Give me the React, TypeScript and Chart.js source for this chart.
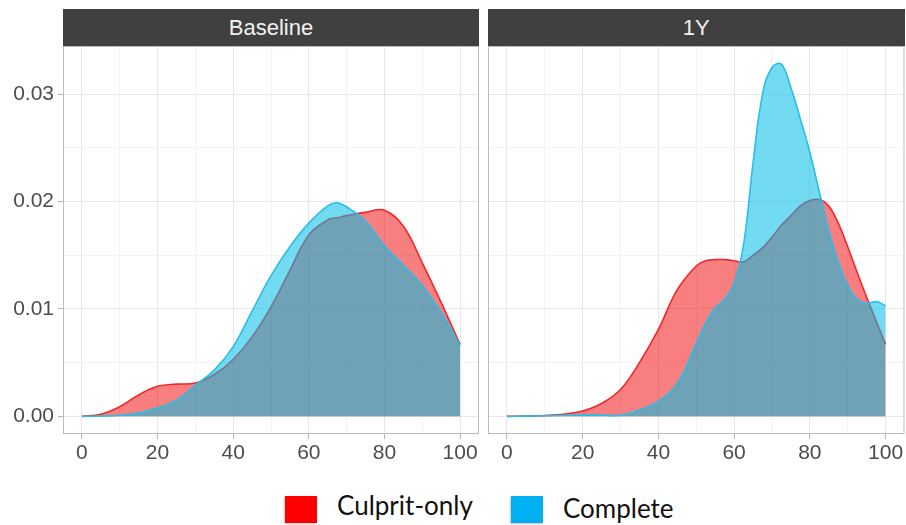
import React, { useEffect, useRef } from "react";
import { Chart, registerables } from "chart.js";

Chart.register(...registerables);

// ---- data ----
const seriesNames = ["Culprit-only", "Complete"];
const panelTitles = ["Baseline", "1Y"];

const baselineX = [0, 5, 10, 15, 20, 25, 30, 35, 40, 45, 50, 55, 60, 65, 67.5, 70, 75, 80, 85, 90, 95, 100];
const baselineCulprit = [0, 0.0002, 0.0009, 0.002, 0.0028, 0.003, 0.0031, 0.0039, 0.0053, 0.0074, 0.0102, 0.0136, 0.0169, 0.0183, 0.0185, 0.0187, 0.019, 0.0192, 0.0177, 0.0143, 0.0106, 0.0067];
const baselineComplete = [0, 0.00003, 0.0001, 0.0003, 0.0008, 0.0015, 0.0029, 0.0043, 0.0065, 0.0098, 0.0131, 0.0158, 0.018, 0.0196, 0.0199, 0.0195, 0.0182, 0.0159, 0.0141, 0.0122, 0.0097, 0.0066];

const oneYearX = [0, 5, 10, 15, 20, 25, 30, 35, 40, 45, 50, 52.5, 55, 57.5, 60, 62.5, 65, 67.5, 70, 72.5, 75, 77.5, 80, 82.5, 85, 87.5, 90, 92.5, 95, 97.5, 100];
const oneYearCulprit = [0, 0.00002, 0.00008, 0.0002, 0.0005, 0.0012, 0.0025, 0.005, 0.0081, 0.0118, 0.014, 0.0145, 0.0146, 0.0146, 0.0145, 0.0144, 0.015, 0.0157, 0.0167, 0.0178, 0.0187, 0.0196, 0.0201, 0.0202, 0.0196, 0.018, 0.0158, 0.0134, 0.0111, 0.0089, 0.0067];
const oneYearComplete = [0, 0.00002, 0.00005, 0.0001, 0.00015, 0.00012, 0.0001, 0.0006, 0.0014, 0.0031, 0.0068, 0.0087, 0.0101, 0.0109, 0.0124, 0.016, 0.0236, 0.03, 0.0325, 0.0328, 0.0306, 0.0277, 0.0246, 0.0209, 0.0173, 0.0144, 0.0122, 0.0109, 0.0105, 0.0107, 0.0103];

const xTicks = [0, 10, 20, 30, 40, 50, 60, 70, 80, 90, 100];
const yTicks = [0, 0.005, 0.01, 0.015, 0.02, 0.025, 0.03];

const X_MIN = -5;
const X_MAX = 105;
const Y_MIN = -0.001645;
const Y_MAX = 0.0345;

const RED_LINE = "rgb(243,38,42)";
const RED_FILL = "rgba(242,0,0,0.5)";
const BLUE_LINE = "rgb(42,189,230)";
const BLUE_FILL = "rgba(0,190,230,0.55)";
const MAJOR_GRID = "#E6E6EB";
const MINOR_GRID = "#F3F3F5";
const TICK_COLOR = "#4D4D4D";

const borderPlugin = {
  id: "panelBorder",
  afterDatasetsDraw(chart: any) {
    const { ctx, chartArea } = chart;
    ctx.save();
    ctx.strokeStyle = "#BDBDBD";
    ctx.lineWidth = 1;
    ctx.strokeRect(
      chartArea.left + 0.5,
      chartArea.top + 0.5,
      chartArea.right - chartArea.left - 1,
      chartArea.bottom - chartArea.top - 1
    );
    ctx.restore();
  },
};

function isMajorX(v: number) {
  return Math.round(v) % 20 === 0;
}
function isMajorY(v: number) {
  return Math.round(v * 200) % 2 === 0;
}

type PanelProps = {
  left: number;
  width: number;
  padLeft: number;
  padRight: number;
  showY: boolean;
  title: string;
  xs: number[];
  culprit: number[];
  complete: number[];
};

function Panel(p: PanelProps) {
  const ref = useRef<HTMLCanvasElement | null>(null);
  useEffect(() => {
    if (!ref.current) return;
    const chart = new Chart(ref.current, {
      type: "line",
      data: {
        datasets: [
          {
            label: seriesNames[1],
            data: p.xs.map((x, i) => ({ x, y: p.complete[i] })),
            borderColor: BLUE_LINE,
            backgroundColor: BLUE_FILL,
            borderWidth: 1.6,
            fill: "origin",
            pointRadius: 0,
            tension: 0.4,
            order: 0,
          },
          {
            label: seriesNames[0],
            data: p.xs.map((x, i) => ({ x, y: p.culprit[i] })),
            borderColor: RED_LINE,
            backgroundColor: RED_FILL,
            borderWidth: 1.6,
            fill: "origin",
            pointRadius: 0,
            tension: 0.4,
            order: 1,
          },
        ],
      },
      options: {
        animation: false,
        responsive: false,
        maintainAspectRatio: false,
        events: [],
        layout: { padding: { top: 46, left: p.padLeft, right: p.padRight, bottom: 0 } },
        plugins: { legend: { display: false }, tooltip: { enabled: false }, title: { display: false } },
        scales: {
          x: {
            type: "linear",
            min: X_MIN,
            max: X_MAX,
            afterBuildTicks: (s: any) => {
              s.ticks = xTicks.map((v) => ({ value: v }));
            },
            afterFit: (s: any) => {
              s.height = 36;
            },
            border: { display: false },
            grid: {
              color: (c: any) => (c.tick && isMajorX(c.tick.value) ? MAJOR_GRID : MINOR_GRID),
              tickColor: (c: any) => (c.tick && isMajorX(c.tick.value) ? "#B3B3B3" : "rgba(0,0,0,0)"),
              tickLength: 5,
              lineWidth: 1,
            },
            ticks: {
              autoSkip: false,
              maxRotation: 0,
              padding: 2,
              color: TICK_COLOR,
              font: { family: "'Liberation Sans', Arial, sans-serif", size: 21 },
              callback: (v: any) => (isMajorX(Number(v)) ? String(v) : ""),
            },
          },
          y: {
            type: "linear",
            min: Y_MIN,
            max: Y_MAX,
            afterBuildTicks: (s: any) => {
              s.ticks = yTicks.map((v) => ({ value: v }));
            },
            afterFit: (s: any) => {
              s.width = p.showY ? 63 : 0;
            },
            border: { display: false },
            grid: {
              color: (c: any) => (c.tick && isMajorY(c.tick.value) ? MAJOR_GRID : MINOR_GRID),
              tickColor: (c: any) => (c.tick && isMajorY(c.tick.value) ? "#B3B3B3" : "rgba(0,0,0,0)"),
              drawTicks: p.showY,
              tickLength: 5,
              lineWidth: 1,
            },
            ticks: {
              display: p.showY,
              autoSkip: false,
              padding: 4,
              color: TICK_COLOR,
              font: { family: "'Liberation Sans', Arial, sans-serif", size: 21 },
              callback: (v: any) => (isMajorY(Number(v)) ? Number(v).toFixed(2) : ""),
            },
          },
        },
      },
      plugins: [borderPlugin],
    } as any);
    return () => chart.destroy();
  }, []);

  const stripLeft = p.left + p.padLeft + (p.showY ? 63 : 0);
  const stripWidth = p.width - p.padLeft - (p.showY ? 63 : 0) - p.padRight;
  return (
    <>
      <canvas
        ref={ref}
        width={p.width}
        height={470}
        style={{ position: "absolute", left: p.left, top: 0, width: p.width, height: 470 }}
      />
      <div
        style={{
          position: "absolute",
          left: stripLeft,
          top: 9,
          width: stripWidth,
          height: 37,
          background: "#404040",
          color: "#F2F2F2",
          fontFamily: "'Liberation Sans', Arial, sans-serif",
          fontSize: 22,
          lineHeight: "37px",
          textAlign: "center",
        }}
      >
        {p.title}
      </div>
    </>
  );
}

export default function App() {
  const legendFont = "Lato, 'Open Sans', sans-serif";
  return (
    <div style={{ position: "absolute", left: 0, top: 0, width: 906, height: 525, background: "#fff", overflow: "hidden" }}>
      <Panel left={0} width={480} padLeft={0} padRight={1} showY={true} title={panelTitles[0]} xs={baselineX} culprit={baselineCulprit} complete={baselineComplete} />
      <Panel left={480} width={426} padLeft={8} padRight={1.5} showY={false} title={panelTitles[1]} xs={oneYearX} culprit={oneYearCulprit} complete={oneYearComplete} />
      <div style={{ position: "absolute", left: 285, top: 496, width: 32, height: 27, background: "#FF0000", boxShadow: "-1px 1px 2px rgba(0,0,0,0.25)" }} />
      <div style={{ position: "absolute", left: 337, top: 492, fontFamily: legendFont, fontSize: 26, lineHeight: "26px", color: "#111", whiteSpace: "nowrap" }}>
        {seriesNames[0]}
      </div>
      <div style={{ position: "absolute", left: 511, top: 496, width: 32, height: 27, background: "#00B0F0", boxShadow: "-1px 1px 2px rgba(0,0,0,0.25)" }} />
      <div style={{ position: "absolute", left: 563, top: 495, fontFamily: legendFont, fontSize: 26, lineHeight: "26px", color: "#111", whiteSpace: "nowrap" }}>
        {seriesNames[1]}
      </div>
    </div>
  );
}
